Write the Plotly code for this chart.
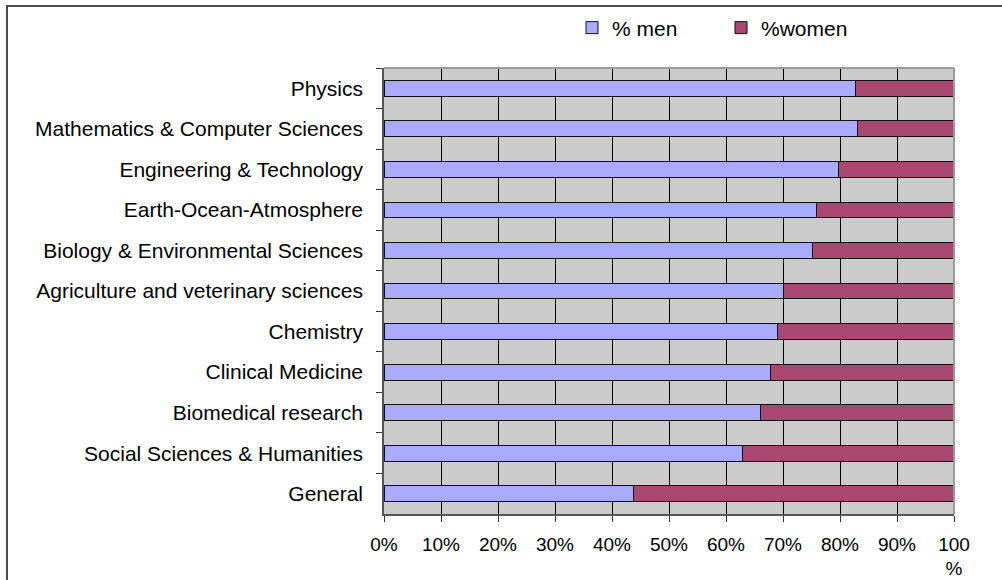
import plotly.graph_objects as go

categories = [
    "Physics",
    "Mathematics & Computer Sciences",
    "Engineering & Technology",
    "Earth-Ocean-Atmosphere",
    "Biology & Environmental Sciences",
    "Agriculture and veterinary sciences",
    "Chemistry",
    "Clinical Medicine",
    "Biomedical research",
    "Social Sciences & Humanities",
    "General",
]
men_pct = [82.8, 83.1, 79.7, 75.8, 75.2, 70.0, 69.1, 67.8, 66.0, 62.9, 43.7]
women_pct = [100 - v for v in men_pct]

tick_vals = [0, 10, 20, 30, 40, 50, 60, 70, 80, 90, 100]
tick_text = ["0%", "10%", "20%", "30%", "40%", "50%", "60%", "70%", "80%", "90%", "100<br>%"]

FONT = "Liberation Sans, Arial, sans-serif"

fig = go.Figure()
fig.add_trace(go.Bar(
    y=categories, x=men_pct, orientation="h", name="% men",
    marker=dict(color="#A8ABFF", line=dict(color="#111111", width=1)),
))
fig.add_trace(go.Bar(
    y=categories, x=women_pct, orientation="h", name="%women",
    marker=dict(color="#A84872", line=dict(color="#111111", width=1)),
))

L, R, T, B = 384, 48, 68, 66
W, H = 1002, 580
pw = W - L - R
ph = H - T - B

def px2x(px):
    return (px - L) / pw

def py2y(py):
    return (H - B - py) / ph

fig.update_layout(
    width=W, height=H,
    margin=dict(l=L, r=R, t=T, b=B, autoexpand=False),
    barmode="stack",
    bargap=0.61,
    plot_bgcolor="#CBCBCB",
    paper_bgcolor="white",
    font=dict(family=FONT, size=20, color="black"),
    showlegend=True,
    legend=dict(
        orientation="h",
        x=px2x(572), xanchor="left",
        y=py2y(28), yanchor="middle",
        font=dict(family=FONT, size=21, color="black"),
        entrywidth=104,
        bgcolor="rgba(0,0,0,0)",
        traceorder="normal",
    ),
    xaxis=dict(
        range=[0, 100],
        tickvals=tick_vals, ticktext=tick_text,
        tickfont=dict(family=FONT, size=19, color="black"),
        showgrid=True, gridcolor="#000000", gridwidth=1,
        ticks="outside", ticklen=6, tickcolor="#333333",
        showline=True, linecolor="#555555", linewidth=1.5,
        zeroline=False,
        automargin=False,
        ticklabelstandoff=6,
        fixedrange=True,
    ),
    yaxis=dict(
        categoryorder="array", categoryarray=categories,
        autorange="reversed",
        tickfont=dict(family=FONT, size=21, color="black"),
        showgrid=False,
        ticks="outside", ticklen=6, tickcolor="#333333",
        tickson="boundaries",
        showline=True, linecolor="#555555", linewidth=1.5,
        automargin=False,
        ticklabelstandoff=15,
        fixedrange=True,
    ),
    shapes=[
        dict(type="line", xref="paper", yref="paper", x0=0, x1=1, y0=1, y1=1,
             line=dict(color="#9A9A9A", width=2)),
        dict(type="line", xref="paper", yref="paper", x0=1, x1=1, y0=0, y1=1,
             line=dict(color="#9A9A9A", width=2)),
        dict(type="rect", xref="paper", yref="paper",
             x0=px2x(7), x1=px2x(1010), y0=py2y(590), y1=py2y(6),
             line=dict(color="#111111", width=1.5), fillcolor="rgba(0,0,0,0)"),
    ],
)

fig.write_html(
    "out.html",
    config={"displayModeBar": False},
    post_script="document.body.style.margin='0';document.body.style.overflow='hidden';",
)
